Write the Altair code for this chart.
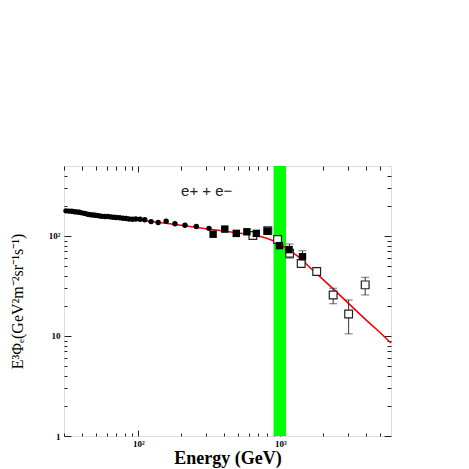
import altair as alt
import pandas as pd

# ---------------- data ----------------
circ_E = [31, 32.5, 34, 35.5, 37, 38.5, 40, 42, 44, 46, 48, 50, 52.5, 55, 58, 61, 64, 67, 70, 74,
          78, 82, 86, 91, 96, 103, 111, 123, 138, 157, 181, 213, 256, 314]
circ_V = [178, 177, 176, 174, 173, 172, 170, 168, 165, 163, 162, 161, 159, 157, 156, 156, 155, 154, 153, 152,
          150, 149, 148, 147, 148, 147, 145, 139, 136, 140, 132, 128, 124, 119]

filled_E = [336, 406, 489, 581, 677, 810, 984, 1150, 1430]
filled_V = [104, 117, 106, 110, 106, 112, 80, 73, 62]

open_E = [640, 815, 955, 1160, 1400, 1800, 2350, 3020, 3950]
open_V = [101, 113, 92, 67, 53, 44, 25.7, 16.6, 32.4]

err_E = [815, 1160, 1430, 2350, 3020, 3950]
err_lo = [105, 60, 55, 21, 10.5, 25.7]
err_hi = [121, 83, 71, 30, 22.9, 38.6]

line_E = [30, 60, 100, 200, 300, 400, 500, 600, 700, 800, 900, 1000, 1150, 1300, 1400, 1570,
          2000, 2500, 3000, 4000, 5000, 6000]
line_V = [180, 159, 145, 128, 118, 112, 107, 104, 100, 95, 89, 82, 72, 64, 59, 50,
          36.5, 27.3, 21.3, 14.5, 10.9, 8.5]

band_lo = [895]
band_hi = [1095]
band_ylo = [1]
band_yhi = [500]

label_text = ["e+   +  e\u2212"]
label_E = [200]
label_V = [250]

x_ticks = [30, 40, 50, 60, 70, 80, 90, 100, 200, 300, 400, 500, 600, 700, 800, 900,
           1000, 2000, 3000, 4000, 5000]
y_ticks = [1, 2, 3, 4, 5, 6, 7, 8, 9, 10, 20, 30, 40, 50, 60, 70, 80, 90, 100, 200, 300, 400]
x_major = [100, 1000]
x_major_text = ["10\u00b2", "10\u00b3"]
y_major = [1, 10, 100]
y_major_text = ["1", "10", "10\u00b2"]

x_title = "Energy (GeV)"
y_title = "E\u00b3\u03a6\u2091(GeV\u00b2m\u207b\u00b2sr\u207b\u00b9s\u207b\u00b9)"

# ---------------- helpers ----------------
def label_expr(vals, texts):
    parts = [f"datum.value == {v} ? '{t}'" for v, t in zip(vals, texts)]
    return " : ".join(parts) + " : ''"

def tick_expr(major, big, small):
    return {"expr": f"indexof({list(major)}, datum.value) >= 0 ? {big} : {small}"}

xs = alt.Scale(type="log", domain=[30, 6000], nice=False)
ys = alt.Scale(type="log", domain=[1, 500], nice=False)

common = dict(domain=False, grid=False, tickColor="#222", tickWidth=1,
              labelOverlap=False, labelFlush=False, labelFont="Liberation Serif",
              labelFontWeight="bold", labelFontSize=9, labelColor="#000")

ax_bottom = alt.Axis(orient="bottom", values=x_ticks, labelExpr=label_expr(x_major, x_major_text),
                     tickSize=tick_expr(x_major, -6, -3), labelPadding=9,
                     title=x_title, titleFont="Liberation Serif", titleFontSize=18,
                     titleFontWeight="bold", titleColor="#000", titleY=27,
                     titleBaseline="alphabetic", **common)
ax_left = alt.Axis(orient="left", values=y_ticks, labelExpr=label_expr(y_major, y_major_text),
                   tickSize=tick_expr(y_major, -7, -3), labelPadding=11,
                   title=y_title, titleFont="Liberation Serif", titleFontSize=16,
                   titleFontWeight="normal", titleColor="#000", titleX=-42, titleY=135,
                   titleAngle=-90, titleAlign="center", titleBaseline="alphabetic", **common)
ax_top = alt.Axis(orient="top", values=x_ticks, labels=False,
                  tickSize=tick_expr(x_major, -6, -4), title=None, **common)
ax_right = alt.Axis(orient="right", values=y_ticks, labels=False,
                    tickSize=tick_expr(y_major, -7, -4), title=None, **common)

# ---------------- layers ----------------
band = alt.Chart(pd.DataFrame({"lo": band_lo, "hi": band_hi, "ylo": band_ylo, "yhi": band_yhi})).mark_rect(
    color="#00ff00").encode(
    x=alt.X("lo:Q", scale=xs, axis=ax_bottom),
    x2="hi:Q",
    y=alt.Y("ylo:Q", scale=ys, axis=ax_left),
    y2="yhi:Q",
)

line = alt.Chart(pd.DataFrame({"E": line_E, "V": line_V})).mark_line(
    color="#ff0000", strokeWidth=1.6).encode(
    x=alt.X("E:Q", scale=xs, axis=ax_top),
    y=alt.Y("V:Q", scale=ys, axis=ax_right),
)

err_df = pd.DataFrame({"E": err_E, "lo": err_lo, "hi": err_hi})
err = alt.Chart(err_df).mark_rule(color="#333", strokeWidth=1).encode(
    x=alt.X("E:Q", scale=xs, axis=None),
    y=alt.Y("lo:Q", scale=ys, axis=None),
    y2="hi:Q",
)
cap_lo = alt.Chart(err_df).mark_tick(color="#333", orient="horizontal", size=8, thickness=1).encode(
    x=alt.X("E:Q", scale=xs, axis=None),
    y=alt.Y("lo:Q", scale=ys, axis=None),
)
cap_hi = alt.Chart(err_df).mark_tick(color="#333", orient="horizontal", size=8, thickness=1).encode(
    x=alt.X("E:Q", scale=xs, axis=None),
    y=alt.Y("hi:Q", scale=ys, axis=None),
)

circles = alt.Chart(pd.DataFrame({"E": circ_E, "V": circ_V})).mark_point(
    shape="circle", filled=True, color="#000", size=30, opacity=1).encode(
    x=alt.X("E:Q", scale=xs, axis=None),
    y=alt.Y("V:Q", scale=ys, axis=None),
)

filled = alt.Chart(pd.DataFrame({"E": filled_E, "V": filled_V})).mark_point(
    shape="square", filled=True, color="#000", size=55, opacity=1).encode(
    x=alt.X("E:Q", scale=xs, axis=None),
    y=alt.Y("V:Q", scale=ys, axis=None),
)

opens = alt.Chart(pd.DataFrame({"E": open_E, "V": open_V})).mark_point(
    shape="square", filled=False, stroke="#222", fill="#fff", fillOpacity=1,
    strokeWidth=1.2, size=60, opacity=1).encode(
    x=alt.X("E:Q", scale=xs, axis=None),
    y=alt.Y("V:Q", scale=ys, axis=None),
)

label = alt.Chart(pd.DataFrame({"E": label_E, "V": label_V, "t": label_text})).mark_text(
    align="left", baseline="alphabetic", font="Liberation Sans", fontSize=15,
    color="#222").encode(
    x=alt.X("E:Q", scale=xs, axis=None),
    y=alt.Y("V:Q", scale=ys, axis=None),
    text="t:N",
)

chart = alt.layer(band, line, err, cap_lo, cap_hi, opens, circles, filled, label).resolve_axis(
    x="independent", y="independent"
).properties(
    width=327, height=270,
    autosize=alt.AutoSizeParams(type="none"),
    padding={"left": 56, "top": 158, "right": 70, "bottom": 36},
).configure_view(
    stroke="#333", strokeWidth=1.5
).configure(background="#ffffff")

chart.save("out.html", embed_options={"renderer": "svg", "actions": False})
